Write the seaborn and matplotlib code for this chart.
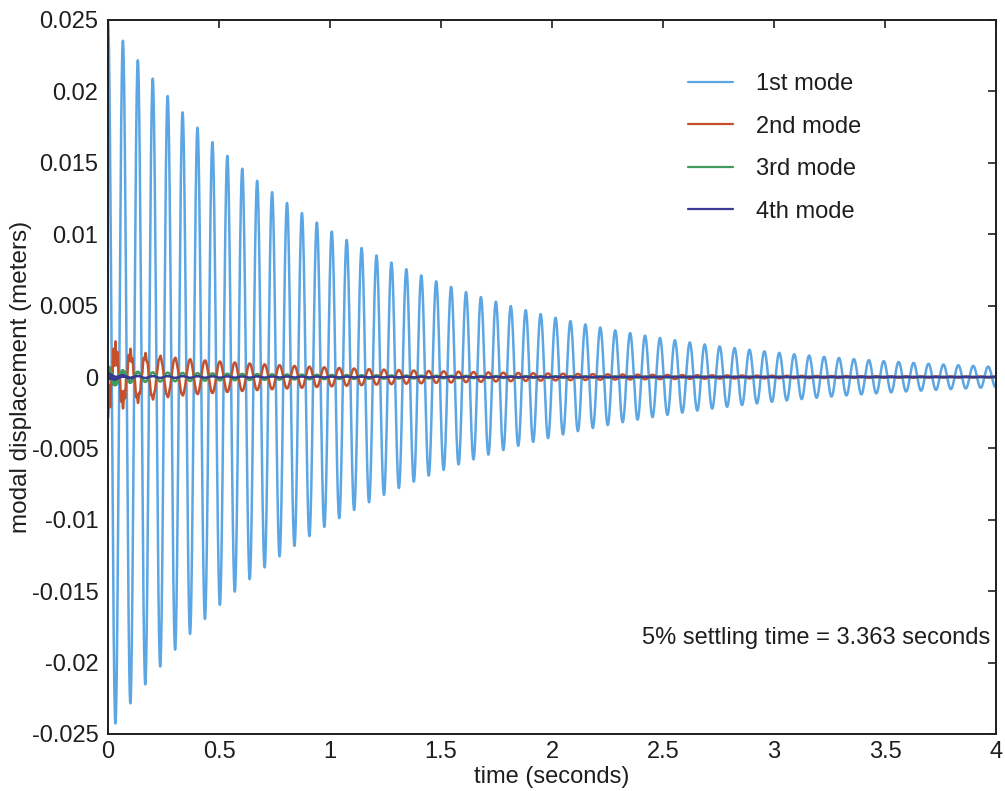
import numpy as np
import pandas as pd
import matplotlib
matplotlib.use("Agg")
import matplotlib.pyplot as plt
import seaborn as sns

# ---- modal free-vibration data -------------------------------------------
mode_labels = ["1st mode", "2nd mode", "3rd mode", "4th mode"]
mode_colors = ["#5ca6e4", "#c4512c", "#3f9c5c", "#3a3a94"]

settling_time = 3.363          # 5% settling time of the 1st mode (s)
damped_freq = 93.5             # damped natural frequency of the 1st mode (rad/s)

# slow component (at the 1st-mode frequency) of every modal coordinate
slow_amp = [0.025, -0.0018, 0.0004, 0.00008]       # m
slow_decay = [-np.log(0.05) / settling_time, 1.0, 1.0, 1.0]  # 1/s

# fast, quickly vanishing component of the higher modes
fast_amp = [0.0, -0.0011, 0.0004, 0.0002]          # m
fast_freq = [0.0, 650.0, 1100.0, 1600.0]           # rad/s
fast_decay = [0.0, 11.0, 20.0, 25.0]               # 1/s

x_ticks = [0, 0.5, 1, 1.5, 2, 2.5, 3, 3.5, 4]
x_tick_labels = ["0", "0.5", "1", "1.5", "2", "2.5", "3", "3.5", "4"]
y_ticks = [0.025, 0.02, 0.015, 0.01, 0.005, 0, -0.005, -0.01, -0.015, -0.02, -0.025]
y_tick_labels = ["0.025", "0.02", "0.015", "0.01", "0.005", "0",
                 "-0.005", "-0.01", "-0.015", "-0.02", "-0.025"]

# ---- modal responses ----------------------------------------------------
t = np.arange(0.0, 4.0 + 1e-9, 0.0004)
frames = []
for i, label in enumerate(mode_labels):
    x = (slow_amp[i] * np.exp(-slow_decay[i] * t) * np.cos(damped_freq * t)
         + fast_amp[i] * np.exp(-fast_decay[i] * t) * np.cos(fast_freq[i] * t))
    frames.append(pd.DataFrame({"time": t, "disp": x, "mode": label}))
df = pd.concat(frames, ignore_index=True)

# ---- figure -------------------------------------------------------------
sns.set_theme(style="white")
plt.rcParams["font.family"] = ["Liberation Sans", "DejaVu Sans"]
text_color = "#1e1e1e"

fig = plt.figure(figsize=(10.05, 7.91), dpi=100)
ax = fig.add_axes([108 / 1005, 57 / 791, 888 / 1005, 714 / 791])

sns.lineplot(data=df, x="time", y="disp", hue="mode", hue_order=mode_labels,
             palette=dict(zip(mode_labels, mode_colors)), estimator=None,
             sort=False, linewidth=1.8, ax=ax)

ax.set_xlim(0, 4)
ax.set_ylim(-0.025, 0.025)
ax.set_xticks(x_ticks)
ax.set_xticklabels(x_tick_labels)
ax.set_yticks(y_ticks)
ax.set_yticklabels(y_tick_labels)
ax.tick_params(direction="in", length=6, width=1.2, top=True, right=True,
               labelsize=17, colors=text_color)
ax.tick_params(axis="x", pad=5)
ax.tick_params(axis="y", pad=7)
for sp in ax.spines.values():
    sp.set_visible(True)
    sp.set_color(text_color)
    sp.set_linewidth(1.4)

ax.set_xlabel("time (seconds)", fontsize=17, color=text_color)
ax.set_ylabel("modal displacement (meters)", fontsize=17.5, color=text_color)
ax.xaxis.set_label_coords(0.5, -0.045)
ax.yaxis.set_label_coords(-0.086, 0.5)

ax.text(2.404, -0.0183, f"5% settling time = {settling_time:.3f} seconds",
        fontsize=17, color=text_color, ha="left", va="center")

handles, labels = ax.get_legend_handles_labels()
leg = ax.legend(handles, labels, frameon=False, loc="upper left",
                bbox_to_anchor=(688 / 1005, 1 - 73 / 791),
                bbox_transform=fig.transFigure, handlelength=1.9,
                handletextpad=1.0, labelspacing=0.87, fontsize=17,
                borderpad=0, borderaxespad=0)
for txt in leg.get_texts():
    txt.set_color(text_color)
for ln in leg.get_lines():
    ln.set_linewidth(1.6)

fig.savefig("out.png", dpi=100, facecolor="white")
